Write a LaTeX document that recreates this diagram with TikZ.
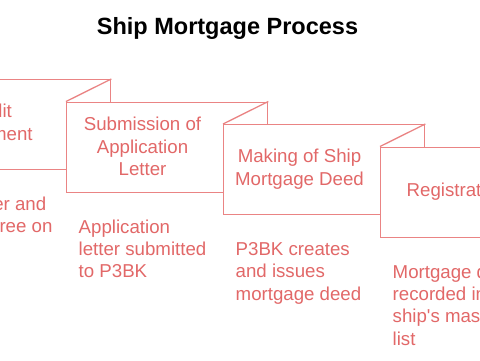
\documentclass[tikz,border=0pt]{standalone}
\usepackage{fontspec}
\setmainfont{Liberation Sans}
\usetikzlibrary{calc}
\definecolor{linecol}{RGB}{234,132,132}
\definecolor{textcol}{RGB}{226,104,104}
\tikzset{
  stepbox/.style={draw=linecol, line width=1.3pt, fill=white, minimum width=201pt, minimum height=90pt, anchor=north west, inner sep=0pt},
  foldline/.style={draw=linecol, line width=1.3pt},
  steplabel/.style={text=textcol, align=center, inner sep=0pt, font=\fontsize{18.67}{22.4}\selectfont},
  stepdesc/.style={text=textcol, align=left, anchor=north west, inner sep=0pt, font=\fontsize{18.67}{22.4}\selectfont},
  titletext/.style={font=\fontsize{23.5}{28}\selectfont\bfseries, text=black, inner sep=0pt}
}
\newcommand{\topstrut}{\rule{0pt}{14pt}}
\begin{document}
\begin{tikzpicture}[x=1pt,y=-1pt]
\useasboundingbox (0,0) rectangle (480,360);
\clip (0,0) rectangle (480,360);
\fill[white] (0,0) rectangle (480,360);
\node[titletext] (title) at (227.5,28) {Ship Mortgage Process};

\node[stepbox] (b1) at (-91,79) {};
\node[steplabel] (l1) at ($(b1.north west)+(78,45)$) {Credit\\Agreement};
\node[stepdesc] (d1) at ($(b1.south west)+(12.5,26)$) {\topstrut Shipowner and\\lender agree on};

\node[stepbox] (b2) at (66,101.5) {};
\draw[foldline] (b2.north west) -- (b1.north east);
\node[steplabel] (l2) at ($(b2.north west)+(76.5,45)$) {Submission of\\Application\\Letter};
\node[stepdesc] (d2) at ($(b2.south west)+(12.5,26)$) {\topstrut Application\\letter submitted\\to P3BK};

\node[stepbox] (b3) at (223,124) {};
\draw[foldline] (b3.north west) -- (b2.north east);
\node[steplabel] (l3) at ($(b3.north west)+(76.5,45)$) {Making of Ship\\Mortgage Deed};
\node[stepdesc] (d3) at ($(b3.south west)+(12.5,26)$) {\topstrut P3BK creates\\and issues\\mortgage deed};

\node[stepbox] (b4) at (380,146.5) {};
\draw[foldline] (b4.north west) -- (b3.north east);
\node[steplabel] (l4) at ($(b4.north west)+(76.5,45)$) {Registration};
\node[stepdesc] (d4) at ($(b4.south west)+(12.5,26)$) {\topstrut Mortgage deed\\recorded in\\ship\textquotesingle s master\\list};
\end{tikzpicture}
\end{document}
